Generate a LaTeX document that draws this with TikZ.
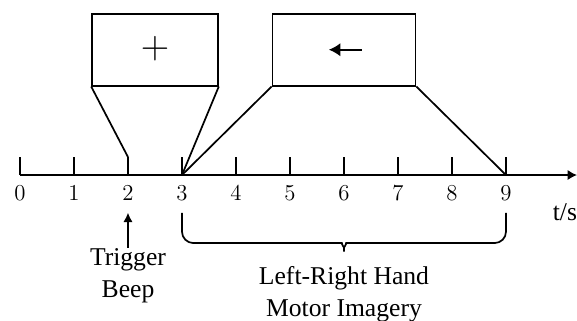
\documentclass[tikz,border=0pt]{standalone}
\usepackage{fontspec}
\newfontfamily\timesfont{Liberation Serif}
\usetikzlibrary{arrows.meta}
\tikzset{
	cuebox/.style = {draw, minimum height = 1.333cm, inner sep = 0pt},
	lbl/.style = {font = \timesfont\fontsize{13.5}{16.8}\selectfont, align = center, inner sep = 0pt},
	num/.style = {font = \fontsize{13}{13}\selectfont},
}
\begin{document}
\begin{tikzpicture}[line width = 0.9pt, x = 1cm, y = 1cm]
\useasboundingbox (-0.37,-2.685) rectangle (10.315,3.241);
\draw[-{Latex[length=5pt, width=5.5pt]}] (0,0) -- (10.315,0);
\foreach \x in {0,...,9}
{
	\draw (\x,0) -- (\x,0.333);
	\coordinate (t\x) at (\x,0.333);
	\node[num] (n\x) at (\x,-0.34) {$\x$};
}
\coordinate (a3) at (3,0);
\coordinate (a9) at (9,0);
\node[lbl] (unit) at (10.09,-0.69) {t/s};
\node[cuebox, minimum width = 2.33cm] (fix) at (2.5,2.32) {\raisebox{2pt}{\fontsize{20}{20}\selectfont$+$}};
\node[cuebox, minimum width = 2.65cm] (cue) at (6,2.32) {};
\draw[-{Latex[length=6pt, width=7pt]}] ([xshift=0.33cm]cue.center) -- ([xshift=-0.28cm]cue.center);
\draw (fix.south west) -- (t2);
\draw (fix.south east) -- (a3);
\draw (cue.south west) -- (a3);
\draw (cue.south east) -- (a9);
\node[lbl, anchor = north] (trig) at (2,-1.35) {Trigger\\Beep};
\draw[-{Latex[length=5pt, width=5pt]}, shorten >= 2.5pt] (trig) -- (n2);
\draw[rounded corners = 6pt] (3,-0.7) |- (5.75,-1.26) .. controls (5.95,-1.26) and (6,-1.36) .. (6,-1.54)
	.. controls (6,-1.36) and (6.05,-1.26) .. (6.25,-1.26) -| (9,-0.7);
\node[lbl, anchor = north] (mi) at (6,-1.68) {Left-Right Hand\\Motor Imagery};
\end{tikzpicture}
\end{document}
